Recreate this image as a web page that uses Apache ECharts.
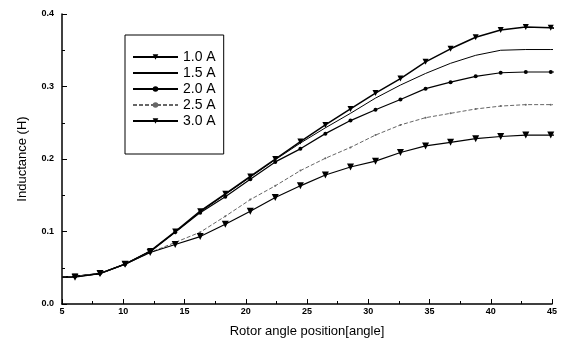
<!DOCTYPE html>
<html>
<head>
<meta charset="utf-8">
<script src="https://cdn.jsdelivr.net/npm/echarts@6/dist/echarts.min.js"></script>
<style>
  html, body { margin: 0; padding: 0; background: #fff; }
  #chart { width: 576px; height: 346px; }
</style>
</head>
<body>
<div id="chart"></div>
<script>
// rotor angle positions (first and last are line ends without a marker)
const angles = [5, 6.06, 8.1, 10.15, 12.2, 14.24, 16.28, 18.33, 20.37, 22.41, 24.46,
  26.5, 28.55, 30.59, 32.63, 34.68, 36.72, 38.77, 40.81, 42.86, 44.9, 46]

const current10 = [0.037, 0.038, 0.042, 0.055, 0.073, 0.100, 0.128, 0.152, 0.176, 0.200, 0.224,
  0.247, 0.269, 0.291, 0.311, 0.334, 0.352, 0.368, 0.378, 0.382, 0.381, 0.379]
const current15 = [0.037, 0.038, 0.042, 0.055, 0.073, 0.099, 0.127, 0.151, 0.175, 0.199, 0.222,
  0.243, 0.263, 0.284, 0.302, 0.318, 0.332, 0.343, 0.350, 0.351, 0.351, 0.351]
const current20 = [0.037, 0.038, 0.042, 0.055, 0.072, 0.099, 0.126, 0.148, 0.172, 0.196, 0.214,
  0.235, 0.253, 0.268, 0.282, 0.297, 0.306, 0.314, 0.319, 0.320, 0.320, 0.320]
const current25 = [0.037, 0.038, 0.042, 0.055, 0.071, 0.085, 0.099, 0.121, 0.144, 0.163, 0.184,
  0.201, 0.216, 0.233, 0.247, 0.257, 0.263, 0.269, 0.273, 0.275, 0.275, 0.275]
const current30 = [0.037, 0.037, 0.042, 0.055, 0.071, 0.082, 0.093, 0.110, 0.128, 0.147, 0.163,
  0.178, 0.189, 0.197, 0.209, 0.218, 0.223, 0.228, 0.231, 0.233, 0.233, 0.233]

const seriesNames = ['1.0 A', '1.5 A', '2.0 A', '2.5 A', '3.0 A']
const xTicks = { min: 5, max: 45, interval: 5 }
const yTicks = { min: 0, max: 0.4, interval: 0.1 }

const chart = echarts.init(document.getElementById('chart'))

function points(values, showMarks) {
  return angles.map((a, i) => {
    const item = { value: [a, values[i]] }
    if (!showMarks || i === 0 || i === angles.length - 1) item.symbol = 'none'
    return item
  })
}

function makeSeries(name, values, opts) {
  return {
    name,
    type: 'line',
    data: points(values, opts.symbol !== 'none'),
    symbol: opts.symbol,
    symbolSize: opts.size,
    symbolRotate: opts.rotate || 0,
    showSymbol: true,
    clip: false,
    silent: true,
    lineStyle: { color: opts.color, width: opts.width, type: opts.type || 'solid' },
    itemStyle: { color: opts.color },
  }
}

const axisFont = { fontFamily: 'Liberation Sans, Arial, sans-serif', fontWeight: 'bold', fontSize: 9, color: '#000' }
const nameFont = { fontFamily: 'Liberation Sans, Arial, sans-serif', fontSize: 13, color: '#000' }

chart.setOption({
  animation: false,
  backgroundColor: '#fff',
  grid: { left: 62, right: 24, top: 14, bottom: 42 },
  legend: {
    data: seriesNames.map(n => (n === '1.5 A' ? { name: n, itemStyle: { opacity: 0 } } : n)),
    orient: 'vertical',
    left: 125,
    top: 35,
    padding: [15, 8, 26, 7],
    itemWidth: 45,
    itemHeight: 7,
    itemGap: 2,
    borderColor: '#000',
    borderWidth: 1,
    selectedMode: false,
    textStyle: { fontFamily: 'Liberation Sans, Arial, sans-serif', fontSize: 14, color: '#000' },
  },
  xAxis: {
    type: 'value',
    min: xTicks.min,
    max: xTicks.max,
    interval: xTicks.interval,
    name: 'Rotor angle position[angle]',
    nameLocation: 'middle',
    nameGap: 21,
    nameTextStyle: nameFont,
    axisLine: { lineStyle: { color: '#000', width: 1.5 } },
    axisTick: { inside: true, length: 5, lineStyle: { color: '#000', width: 1 } },
    minorTick: { show: true, splitNumber: 2, length: 3, lineStyle: { color: '#000' } },
    axisLabel: { ...axisFont, margin: 3 },
    splitLine: { show: false },
  },
  yAxis: {
    type: 'value',
    min: yTicks.min,
    max: yTicks.max,
    interval: yTicks.interval,
    name: 'Inductance (H)',
    nameLocation: 'middle',
    nameGap: 33,
    nameTextStyle: nameFont,
    axisLine: { show: true, lineStyle: { color: '#000', width: 1.5 } },
    axisTick: { show: true, inside: true, length: 5, lineStyle: { color: '#000', width: 1 } },
    minorTick: { show: true, splitNumber: 2, length: 3, lineStyle: { color: '#000' } },
    axisLabel: { ...axisFont, margin: 8, formatter: v => v.toFixed(1) },
    splitLine: { show: false },
  },
  series: [
    makeSeries('1.0 A', current10, { symbol: 'triangle', size: 6, rotate: 180, color: '#000', width: 1.5 }),
    makeSeries('1.5 A', current15, { symbol: 'none', color: '#000', width: 1 }),
    makeSeries('2.0 A', current20, { symbol: 'circle', size: 4, color: '#000', width: 1.2 }),
    makeSeries('2.5 A', current25, { symbol: 'circle', size: 2, color: '#666', width: 1, type: [4, 2] }),
    makeSeries('3.0 A', current30, { symbol: 'triangle', size: 7, rotate: 180, color: '#000', width: 1.2 }),
  ],
})
</script>
</body>
</html>
